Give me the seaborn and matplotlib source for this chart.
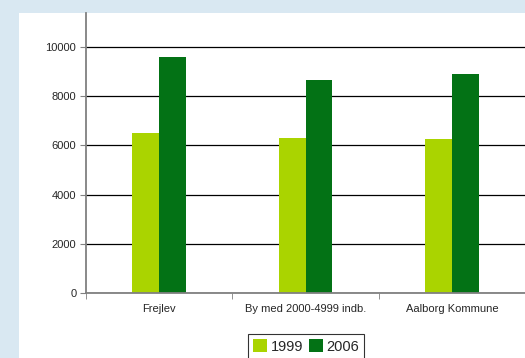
import matplotlib
matplotlib.use("Agg")
import matplotlib.pyplot as plt
import pandas as pd
import seaborn as sns

# data
places = ["Frejlev", "By med 2000-4999 indb.", "Aalborg Kommune"]
years = ["1999", "2006"]
values_1999 = [6500, 6300, 6250]
values_2006 = [9600, 8650, 8900]
yticks = [0, 2000, 4000, 6000, 8000, 10000]

df = pd.DataFrame({
    "place": places * 2,
    "year": [years[0]] * 3 + [years[1]] * 3,
    "value": values_1999 + values_2006,
})

sns.set_style("white")
plt.rcParams['font.family'] = ['Liberation Sans', 'DejaVu Sans']

fig = plt.figure(figsize=(5.25, 3.58), dpi=100)
fig.patch.set_facecolor("#d9e8f2")
# white panel inside the blue frame
fig.patches.append(plt.Rectangle((19 / 525, 0), 1, 1 - 13 / 358, transform=fig.transFigure,
                                 facecolor="white", edgecolor="none", zorder=-10))

ax = fig.add_axes([86 / 525, 65 / 358, 1 - 86 / 525, 280 / 358])
ax.set_facecolor("none")

sns.barplot(data=df, x="place", y="value", hue="year", order=places, hue_order=years,
            palette=["#aad400", "#037215"], width=0.367, saturation=1, ax=ax,
            edgecolor="none", linewidth=0)

ax.set_xlim(-0.5, 2.5)
ax.set_ylim(0, 11380)
ax.set_yticks(yticks)
ax.set_yticklabels([str(v) for v in yticks], fontsize=8)
ax.set_xticks(range(3))
ax.set_xticklabels(places, fontsize=8)
ax.tick_params(axis="x", which="major", length=0, pad=8)
ax.set_xticks([-0.5, 0.5, 1.5, 2.5], minor=True)
ax.tick_params(axis="x", which="minor", length=4, direction="out", color="#808080", bottom=True)
ax.tick_params(axis="y", length=4, direction="out", color="#808080", left=True, pad=3)
ax.set_xlabel("")
ax.set_ylabel("")

ax.yaxis.grid(True, color="black", linewidth=0.9)
ax.set_axisbelow(True)
for s in ["top", "right"]:
    ax.spines[s].set_visible(False)
for s in ["left", "bottom"]:
    ax.spines[s].set_color("#808080")
    ax.spines[s].set_linewidth(1.3)

leg = ax.legend(loc="upper center", bbox_to_anchor=(0.501, -0.146), ncol=2, fontsize=10.5,
                frameon=True, fancybox=False, edgecolor="black", handlelength=1.0,
                handleheight=1.0, handletextpad=0.2, columnspacing=0.4, borderpad=0.35,
                borderaxespad=0)
leg.get_frame().set_linewidth(0.8)

fig.savefig("out.png", dpi=100, facecolor=fig.get_facecolor())
